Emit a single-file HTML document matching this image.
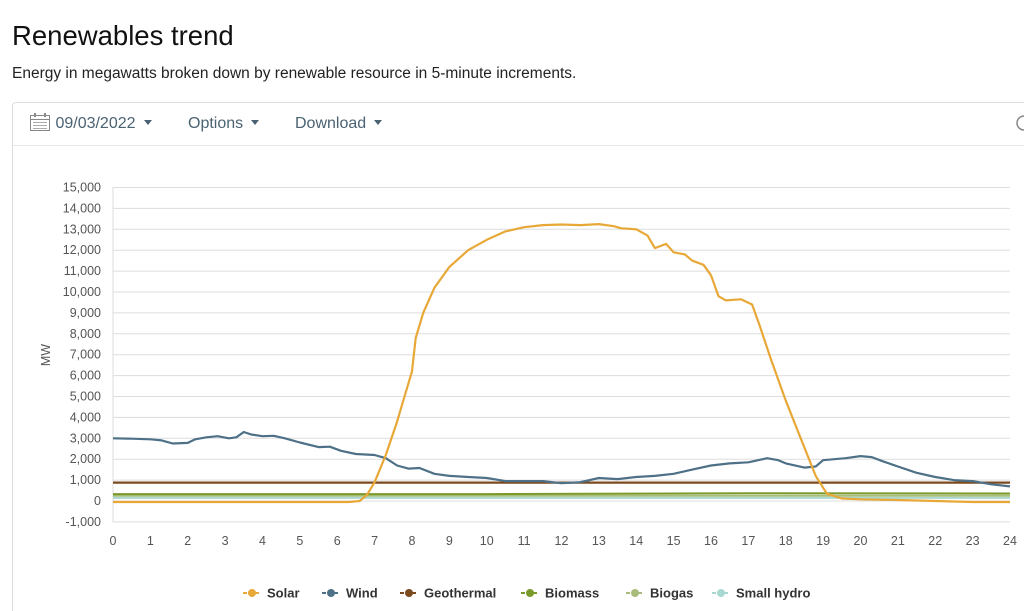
<!DOCTYPE html>
<html style="overflow:hidden"><head><meta charset="utf-8"><style>
html,body{margin:0;width:1024px;height:611px;overflow:hidden}
body{background:#fff;font-family:"Liberation Sans",Arial,sans-serif;position:relative}
h1{position:absolute;left:12px;top:20px;margin:0;font-size:27.5px;font-weight:normal;color:#111}
.sub{position:absolute;left:12px;top:65px;font-size:15.5px;color:#222}
.card{position:absolute;left:12px;top:102px;width:1040px;height:520px;border:1px solid #ddd;border-radius:4px}
.bar{position:absolute;left:0;top:0;right:0;height:42px;border-bottom:1px solid #e6e6e6}
.bi{position:absolute;top:12px;font-size:16px;color:#4a6272}
.car{display:inline-block;width:0;height:0;border-left:4.5px solid transparent;border-right:4.5px solid transparent;border-top:5px solid #4a6272;vertical-align:middle;margin-left:8px;margin-top:-3px}
svg{position:absolute;left:0;top:0}
</style></head><body>
<h1>Renewables trend</h1>
<div class="sub">Energy in megawatts broken down by renewable resource in 5-minute increments.</div>
<div class="card"><div class="bar">
<div class="bi" style="left:16px"><svg width="22" height="20" style="position:relative;vertical-align:middle;margin-top:-4px"><rect x="1.5" y="3.5" width="19" height="15" fill="none" stroke="#888"/><line x1="1.5" y1="7.5" x2="20.5" y2="7.5" stroke="#888"/><rect x="5" y="1" width="2" height="4" fill="#888"/><rect x="15" y="1" width="2" height="4" fill="#888"/><g fill="#aaa"><rect x="4" y="10" width="14" height="1"/><rect x="4" y="13" width="14" height="1"/><rect x="4" y="16" width="14" height="1"/></g></svg> 09/03/2022<span class="car"></span></div>
<div class="bi" style="left:175px">Options<span class="car"></span></div>
<div class="bi" style="left:282px">Download<span class="car"></span></div>
</div></div>
<svg width="1024" height="611" id="s"></svg>
<script>
const s=document.getElementById('s');let h='';
const X=t=>113+t*897/24, Y=v=>501-v*20.9/1000;
for(let v=-1000;v<=15000;v+=1000){const y=Y(v);h+=`<line x1="113" x2="1010" y1="${y}" y2="${y}" stroke="#ddd"/>`;
h+=`<text x="101" y="${y+4}" text-anchor="end" font-size="12.5" fill="#555">${v.toLocaleString('en-US')}</text>`;}
h+=`<line x1="113" x2="113" y1="187" y2="522" stroke="#ddd"/>`;
for(let t=0;t<=24;t++)h+=`<text x="${X(t)}" y="545" text-anchor="middle" font-size="12.5" fill="#555">${t}</text>`;
h+=`<text transform="translate(50,355) rotate(-90)" text-anchor="middle" font-size="12.5" fill="#555">MW</text>`;
function line(d,c,w){let p=d.map(a=>X(a[0]).toFixed(1)+','+Y(a[1]).toFixed(1)).join(' ');h+=`<polyline points="${p}" fill="none" stroke="${c}" stroke-width="${w||2}" stroke-linejoin="round"/>`;}
line([[0,150],[24,150]],'#a8d8d0',2);
line([[0,250],[24,250]],'#a9bd7a',2);
line([[0,330],[10,330],[17,370],[24,360]],'#7a9a2a',2);
line([[0,880],[24,880]],'#7b4a1e',2.2);
line([[0,3000],[0.5,2980],[1,2950],[1.3,2900],[1.6,2750],[2,2780],[2.2,2950],[2.5,3050],[2.8,3100],[3.1,3000],[3.3,3050],[3.5,3300],[3.7,3180],[4,3100],[4.3,3120],[4.6,3000],[5,2800],[5.5,2580],[5.8,2600],[6.1,2400],[6.5,2250],[7,2200],[7.3,2050],[7.6,1700],[7.9,1550],[8.2,1580],[8.6,1300],[9,1200],[9.5,1150],[10,1100],[10.5,950],[11,950],[11.5,950],[12,850],[12.5,900],[13,1100],[13.5,1050],[14,1150],[14.5,1200],[15,1300],[15.5,1500],[16,1700],[16.5,1800],[17,1850],[17.5,2050],[17.8,1950],[18,1800],[18.5,1600],[18.8,1650],[19,1950],[19.3,2000],[19.6,2050],[20,2150],[20.3,2100],[20.6,1900],[21,1650],[21.5,1350],[22,1150],[22.5,1000],[23,950],[23.5,800],[24,700]],'#4e7188',2.2);
line([[0,-50],[6.3,-50],[6.6,0],[6.8,300],[7,900],[7.3,2200],[7.6,3800],[7.8,5000],[8,6200],[8.1,7800],[8.3,9000],[8.6,10200],[9,11200],[9.5,12000],[10,12500],[10.5,12900],[11,13100],[11.5,13200],[12,13230],[12.5,13200],[13,13250],[13.4,13150],[13.6,13050],[14,13000],[14.3,12700],[14.5,12100],[14.8,12300],[15,11900],[15.3,11800],[15.5,11500],[15.8,11300],[16,10800],[16.2,9800],[16.4,9600],[16.8,9650],[17.1,9400],[17.3,8400],[17.6,6800],[18,4800],[18.4,3000],[18.8,1200],[19.1,350],[19.5,120],[20,80],[21,50],[22,0],[23,-50],[24,-50]],'#e8a838',2.2);
const L=[['Solar','#e8a838',243],['Wind','#4e7188',322],['Geothermal','#7b4a1e',400],['Biomass','#7a9a2a',521],['Biogas','#a9bd7a',626],['Small hydro','#a8d8d0',712]];
for(const [n,c,x] of L){h+=`<line x1="${x}" x2="${x+18}" y1="593" y2="593" stroke="${c}" stroke-width="2" stroke-dasharray="4,2"/><circle cx="${x+9}" cy="593" r="4" fill="${c}"/><text x="${x+24}" y="597.5" font-size="13" font-weight="bold" fill="#333">${n}</text>`;}
h+=`<circle cx="1024" cy="123" r="7" fill="none" stroke="#888" stroke-width="1.5"/>`;
s.innerHTML=h;
</script>
</body></html>
